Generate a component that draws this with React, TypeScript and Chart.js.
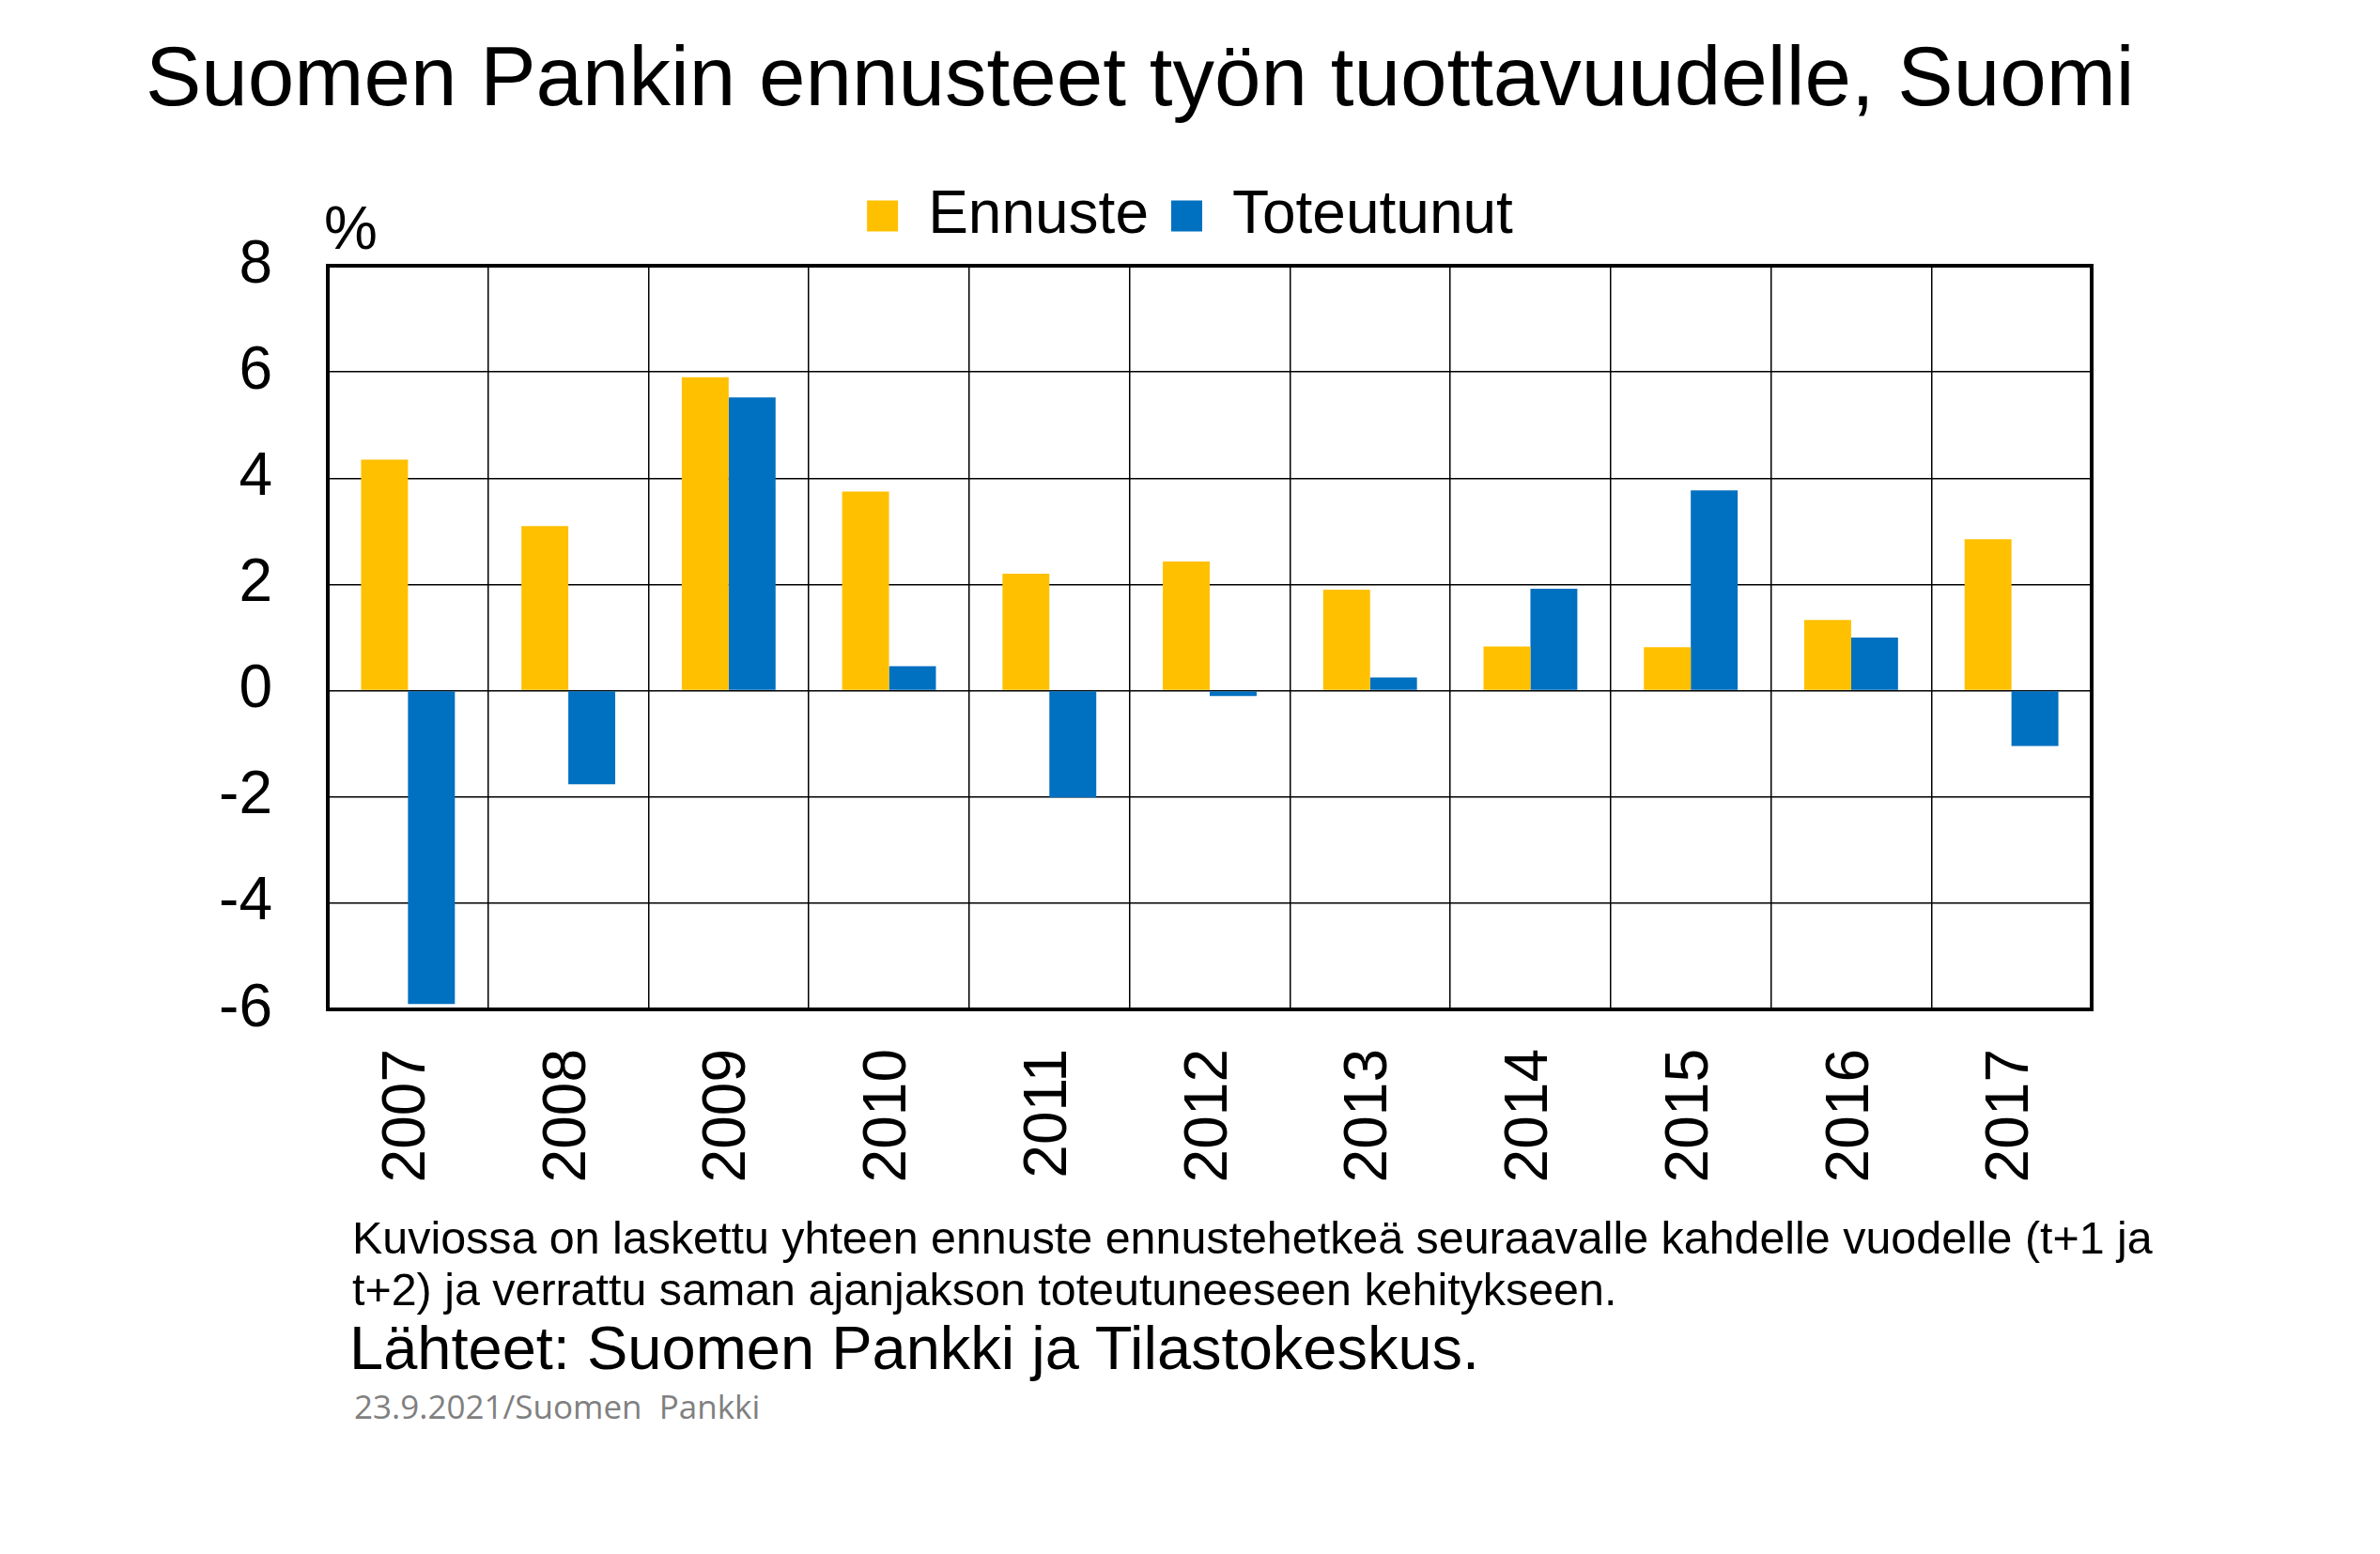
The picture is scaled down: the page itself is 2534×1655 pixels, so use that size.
import React, { useEffect, useRef } from "react";
import { Chart, registerables } from "chart.js";

Chart.register(...registerables);

// ---- Data ----
const years = ["2007", "2008", "2009", "2010", "2011", "2012", "2013", "2014", "2015", "2016", "2017"];
const ennuste = [4.35, 3.1, 5.9, 3.75, 2.2, 2.43, 1.9, 0.83, 0.82, 1.33, 2.85];
const toteutunut = [-5.9, -1.76, 5.52, 0.46, -2.01, -0.1, 0.25, 1.92, 3.77, 1.0, -1.04];
const seriesNames = ["Ennuste", "Toteutunut"];
const yMin = -6;
const yMax = 8;
const yStep = 2;

const titleText = "Suomen Pankin ennusteet työn tuottavuudelle, Suomi";
const unitText = "%";
const noteLine1 = "Kuviossa on laskettu yhteen ennuste ennustehetkeä seuraavalle kahdelle vuodelle (t+1 ja";
const noteLine2 = "t+2) ja verrattu saman ajanjakson toteutuneeseen kehitykseen.";
const sourceText = "Lähteet: Suomen Pankki ja Tilastokeskus.";
const dateText = "23.9.2021/Suomen  Pankki";

const FONT = "'Liberation Sans', Arial, Helvetica, sans-serif";
const YELLOW = "#FFC000";
const BLUE = "#0070C0";

const framePlugin = {
  id: "frame",
  afterDatasetsDraw(chart: any) {
    const { ctx, chartArea } = chart;
    const { left, top, right, bottom } = chartArea;
    ctx.save();
    ctx.strokeStyle = "#000";
    ctx.lineWidth = 4;
    ctx.strokeRect(left, top, right - left, bottom - top);
    ctx.restore();
  },
};

function BarChart() {
  const ref = useRef<HTMLCanvasElement | null>(null);
  useEffect(() => {
    if (!ref.current) return;
    const chart = new Chart(ref.current, {
      type: "bar",
      data: {
        labels: years,
        datasets: [
          {
            label: seriesNames[0],
            data: ennuste,
            backgroundColor: YELLOW,
            borderWidth: 0,
            barPercentage: 1,
            categoryPercentage: 0.585,
          },
          {
            label: seriesNames[1],
            data: toteutunut,
            backgroundColor: BLUE,
            borderWidth: 0,
            barPercentage: 1,
            categoryPercentage: 0.585,
          },
        ],
      },
      options: {
        animation: false,
        responsive: false,
        devicePixelRatio: 1,
        layout: { padding: { top: 174, left: 0, right: 0, bottom: 0 } },
        plugins: {
          legend: {
            position: "top",
            labels: {
              font: { family: FONT, size: 64 },
              color: "#000",
              boxWidth: 33,
              boxHeight: 33,
              padding: 24,
            },
          },
          tooltip: { enabled: false },
        },
        scales: {
          x: {
            type: "category",
            grid: { offset: true, color: "#000", lineWidth: 1.5, drawTicks: false },
            border: { display: false },
            ticks: {
              font: { family: FONT, size: 64 },
              color: "#000",
              minRotation: 90,
              maxRotation: 90,
              autoSkip: false,
              padding: 42,
            },
            afterFit: (s: any) => {
              s.height = 225;
            },
          },
          xTop: {
            type: "category",
            position: "top",
            display: true,
            grid: { display: false },
            border: { display: false },
            ticks: { display: false },
            afterFit: (s: any) => {
              s.height = 11;
            },
          },
          y: {
            type: "linear",
            min: yMin,
            max: yMax,
            ticks: {
              stepSize: yStep,
              font: { family: FONT, size: 64 },
              color: "#000",
              padding: 59,
            },
            grid: { color: "#000", lineWidth: 1.5, drawTicks: false },
            border: { display: false },
            afterFit: (s: any) => {
              s.width = 349;
            },
          },
          yRight: {
            type: "linear",
            position: "right",
            display: true,
            grid: { display: false },
            border: { display: false },
            ticks: { display: false },
            afterFit: (s: any) => {
              s.width = 307;
            },
          },
        },
      } as any,
      plugins: [framePlugin],
    });
    return () => chart.destroy();
  }, []);
  return (
    <canvas
      ref={ref}
      width={2534}
      height={1300}
      style={{ position: "absolute", left: 0, top: 0, width: 2534, height: 1300 }}
    />
  );
}

const textBase: React.CSSProperties = {
  position: "absolute",
  fontFamily: FONT,
  color: "#000",
  lineHeight: 1,
  whiteSpace: "pre",
  margin: 0,
};

export default function App() {
  return (
    <div
      style={{
        position: "absolute",
        left: 0,
        top: 0,
        width: 2534,
        height: 1655,
        background: "#fff",
        overflow: "hidden",
      }}
    >
      <BarChart />
      <div style={{ ...textBase, left: 155, top: 37, fontSize: 89 }}>{titleText}</div>
      <div style={{ ...textBase, left: 345, top: 211, fontSize: 64 }}>{unitText}</div>
      <div style={{ ...textBase, left: 375, top: 1294, fontSize: 48.4 }}>{noteLine1}</div>
      <div style={{ ...textBase, left: 375, top: 1349, fontSize: 48.4 }}>{noteLine2}</div>
      <div style={{ ...textBase, left: 372, top: 1403, fontSize: 65 }}>{sourceText}</div>
      <div
        style={{
          ...textBase,
          left: 377,
          top: 1480,
          fontSize: 35,
          color: "#808080",
          fontFamily: "'Open Sans', 'Noto Sans', sans-serif",
        }}
      >
        {dateText}
      </div>
    </div>
  );
}
